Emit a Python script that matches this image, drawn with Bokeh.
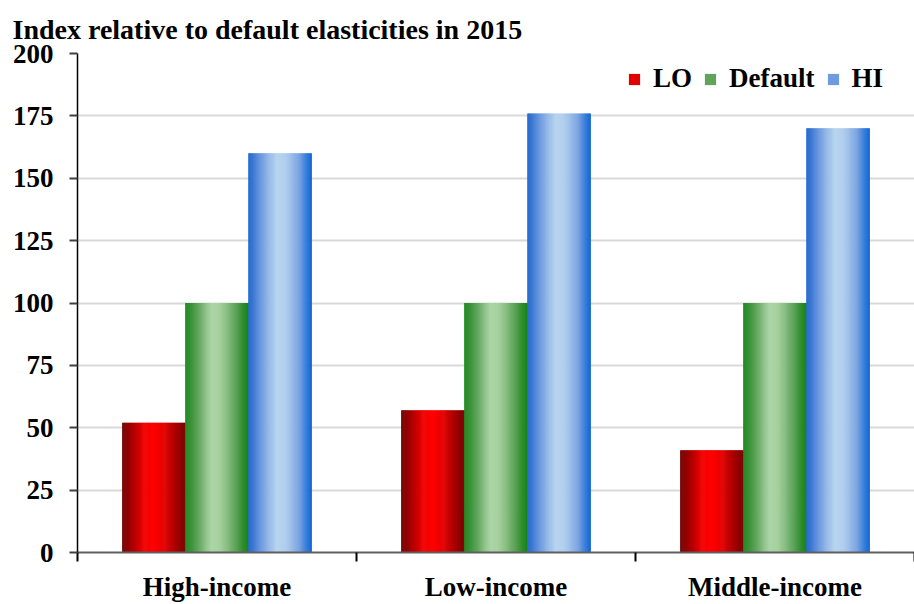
from bokeh.plotting import figure
from bokeh.models import (Range1d, LinearAxis, FixedTicker, Legend, LegendItem, ColumnDataSource)
from bokeh.transform import dodge
from bokeh.embed import file_html
from bokeh.resources import INLINE

# ---- data ----
categories = ["High-income", "Low-income", "Middle-income"]
series_names = ["LO", "Default", "HI"]
lo_values = [52, 57, 41]
default_values = [100, 100, 100]
hi_values = [160, 176, 170]
y_ticks = [0, 25, 50, 75, 100, 125, 150, 175, 200]
title_text = "Index relative to default elasticities in 2015"

FONT = "Liberation Serif"
FS = "27px"

# ---- style (gradient stops per series) ----
gradients = [
    [(0.0, "#6e0000"), (0.35, "#f00000"), (0.5, "#ff0000"), (0.65, "#e80000"), (1.0, "#780000")],
    [(0.0, "#1a851a"), (0.2, "#5ea45a"), (0.42, "#acd5a7"), (0.55, "#a6d09e"), (0.8, "#5ea45a"), (1.0, "#0f7f0f")],
    [(0.0, "#1e64cc"), (0.2, "#6e9ae0"), (0.45, "#b8d4ef"), (0.58, "#b2cfee"), (0.8, "#7ea6e2"), (1.0, "#0a62d6")],
]
legend_colors = ["#e00000", "#5ea45a", "#6e9ae0"]


def hex2rgb(h):
    h = h.lstrip("#")
    return tuple(int(h[i:i + 2], 16) for i in (0, 2, 4))


def grad_color(stops, t):
    for (t0, c0), (t1, c1) in zip(stops, stops[1:]):
        if t0 <= t <= t1:
            f = (t - t0) / (t1 - t0) if t1 > t0 else 0
            a, b = hex2rgb(c0), hex2rgb(c1)
            return "#%02x%02x%02x" % tuple(int(round(a[i] + (b[i] - a[i]) * f)) for i in range(3))
    return stops[-1][1]


# category i occupies [i, i+1] on the x scale
cat_centers = [i + 0.5 for i in range(len(categories))]
cat_bounds = list(range(len(categories) + 1))

p = figure(width=914, height=604,
           x_range=Range1d(0, len(categories)),
           y_range=Range1d(0, 200),
           output_backend="svg", toolbar_location=None,
           x_axis_location=None,
           min_border_left=77, min_border_right=0, min_border_top=53, min_border_bottom=51)

p.outline_line_color = None
p.background_fill_color = "white"
p.border_fill_color = "white"

# title
p.title.text = title_text
p.title.text_font = FONT
p.title.text_font_size = "28px"
p.title.text_font_style = "bold"
p.title.text_color = "black"
p.title.align = "left"
p.title.offset = -65
p.title.standoff = 18

# y axis
yt = FixedTicker(ticks=y_ticks)
p.yaxis.ticker = yt
p.yaxis.major_label_text_font = FONT
p.yaxis.major_label_text_font_size = FS
p.yaxis.major_label_text_font_style = "bold"
p.yaxis.major_label_text_color = "black"
p.yaxis.major_tick_out = 8
p.yaxis.major_tick_in = 0
p.yaxis.major_tick_line_color = "#404040"
p.yaxis.major_tick_line_width = 2
p.yaxis.minor_tick_line_color = None
p.yaxis.axis_line_color = "black"
p.yaxis.axis_line_width = 1.5
p.yaxis.major_label_standoff = 16
p.ygrid.ticker = yt
p.ygrid.grid_line_color = "#d9d9d9"
p.ygrid.grid_line_width = 2
p.xgrid.visible = False

# bars drawn as thin vertical strips for the gradient look
bar_w = 0.226
n_strips = 60
offsets = [-bar_w, 0.0, bar_w]
all_values = [lo_values, default_values, hi_values]
for s, (name, vals) in enumerate(zip(series_names, all_values)):
    src = ColumnDataSource(dict(xc=cat_centers, val=vals))
    for k in range(n_strips):
        t = (k + 0.5) / n_strips
        c = grad_color(gradients[s], t)
        off = offsets[s] + (-0.5 + t) * bar_w
        p.vbar(x=dodge("xc", off), top="val", bottom=0,
               width=bar_w / n_strips * 1.6, source=src,
               fill_color=c, line_color=None)

# legend with solid representative colours
leg_items = []
for s, name in enumerate(series_names):
    r = p.vbar(x=cat_centers, top=[0] * len(categories), bottom=0, width=0,
               fill_color=legend_colors[s], line_color=None)
    leg_items.append(LegendItem(label=name, renderers=[r]))

legend = Legend(items=leg_items, orientation="horizontal", location=(550, 458),
                border_line_color=None, background_fill_alpha=0,
                label_text_font=FONT, label_text_font_size=FS, label_text_font_style="bold",
                label_text_color="black",
                glyph_width=14, glyph_height=14, label_standoff=12, spacing=11,
                margin=0, padding=0)
p.add_layout(legend)

# x axis: category labels at centres, boundary marks as (minor) ticks
x_ticker = FixedTicker(ticks=cat_centers, minor_ticks=cat_bounds)
x_axis = LinearAxis(ticker=x_ticker,
                    major_label_overrides={c: n for c, n in zip(cat_centers, categories)},
                    major_label_text_font=FONT, major_label_text_font_size=FS,
                    major_label_text_font_style="bold", major_label_text_color="black",
                    axis_line_color="#606060", axis_line_width=2,
                    major_tick_line_color=None, major_tick_out=0, major_tick_in=0,
                    minor_tick_line_color="black", minor_tick_line_width=2,
                    minor_tick_out=9, minor_tick_in=0,
                    major_label_standoff=10)
p.add_layout(x_axis, "below")

open("out.html", "w").write(file_html(p, INLINE))
